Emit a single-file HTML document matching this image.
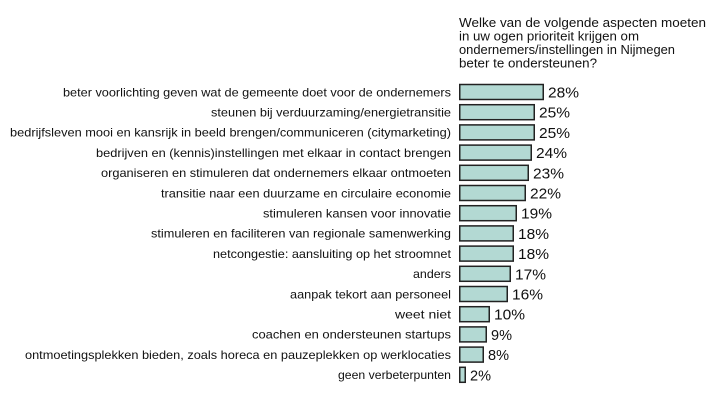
<!DOCTYPE html>
<html><head><style>
body{margin:0;background:#fff;width:716px;height:405px;overflow:hidden}
svg{font-family:"Liberation Sans",sans-serif;fill:#111}
</style></head><body>
<svg width="716" height="405" id="s">
<g font-size="12.5">
<text x="459" y="27" textLength="247" lengthAdjust="spacingAndGlyphs">Welke van de volgende aspecten moeten</text>
<text x="459" y="40.5" textLength="180" lengthAdjust="spacingAndGlyphs">in uw ogen prioriteit krijgen om</text>
<text x="459" y="54" textLength="216" lengthAdjust="spacingAndGlyphs">ondernemers/instellingen in Nijmegen</text>
<text x="459" y="67.5" textLength="138" lengthAdjust="spacingAndGlyphs">beter te ondersteunen?</text>
</g>
</svg>
<script>
var d=[["beter voorlichting geven wat de gemeente doet voor de ondernemers",28,63],["steunen bij verduurzaming/energietransitie",25,211],["bedrijfsleven mooi en kansrijk in beeld brengen/communiceren (citymarketing)",25,10],["bedrijven en (kennis)instellingen met elkaar in contact brengen",24,96],["organiseren en stimuleren dat ondernemers elkaar ontmoeten",23,101],["transitie naar een duurzame en circulaire economie",22,161],["stimuleren kansen voor innovatie",19,263],["stimuleren en faciliteren van regionale samenwerking",18,151],["netcongestie: aansluiting op het stroomnet",18,213],["anders",17,413],["aanpak tekort aan personeel",16,290],["weet niet",10,395],["coachen en ondersteunen startups",9,252],["ontmoetingsplekken bieden, zoals horeca en pauzeplekken op werklocaties",8,25],["geen verbeterpunten",2,338]];
var h="";d.forEach(function(x,i){var c=92+i*20.2,w=x[1]*3+1;
h+='<text x="'+x[2]+'" y="'+(c+4.3)+'" font-size="12" textLength="'+(451-x[2])+'" lengthAdjust="spacingAndGlyphs">'+x[0]+'</text>';
h+='<rect x="459.75" y="'+(c-7.5)+'" width="'+(w-1.5)+'" height="15" fill="#b3d9d3" stroke="#222" stroke-width="1.5"/>';
var pw=x[1]<10?21:31;
h+='<text x="'+(459+w+4)+'" y="'+(c+5.5)+'" font-size="15" textLength="'+pw+'" lengthAdjust="spacingAndGlyphs">'+x[1]+'%</text>';});
document.getElementById("s").insertAdjacentHTML("beforeend",h);
</script>
</body></html>
